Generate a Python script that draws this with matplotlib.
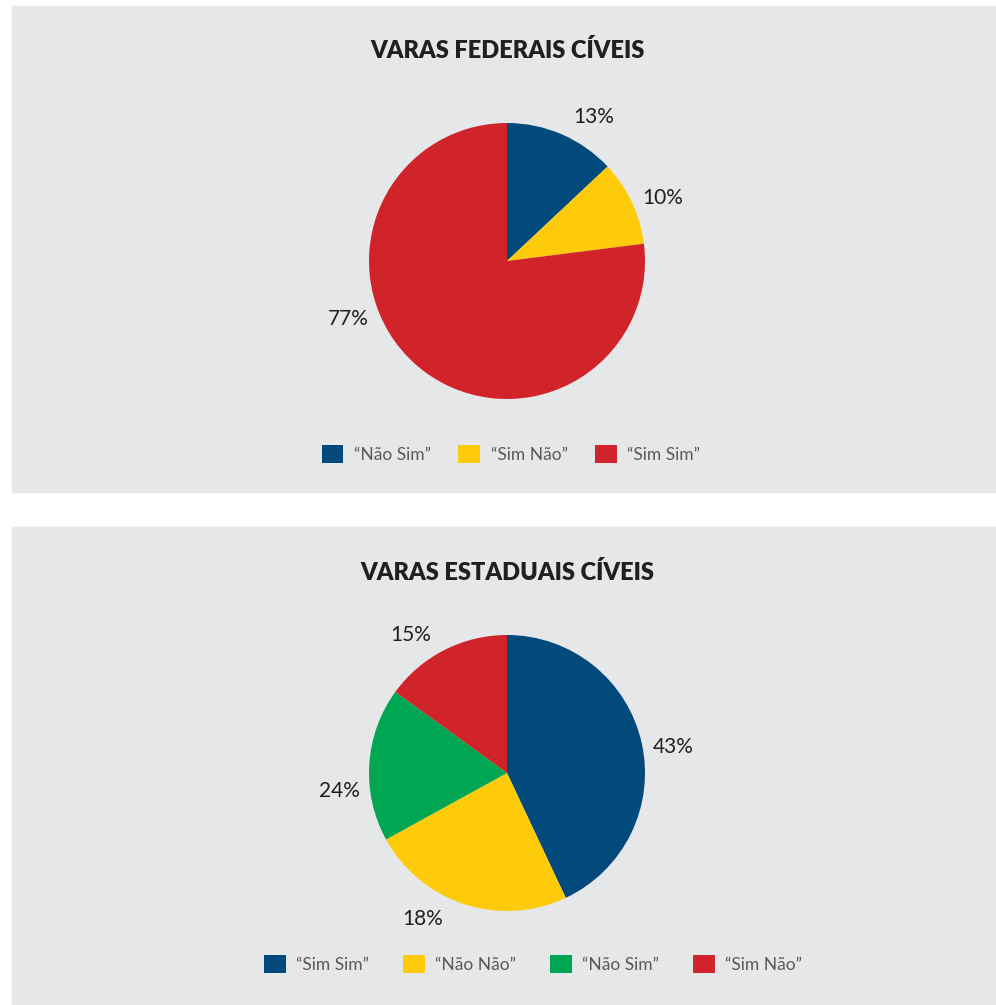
import numpy as np
import matplotlib
matplotlib.use('Agg')
import matplotlib.pyplot as plt
from matplotlib.patches import Rectangle, Patch

plt.rcParams['font.family'] = ['Lato', 'DejaVu Sans']

# dados
fed_labels = ['“Não Sim”', '“Sim Não”', '“Sim Sim”']
fed_values = [13, 10, 77]
fed_pct = ['13%', '10%', '77%']
fed_colors = ['#02497c', '#fecb0b', '#d0232a']

est_labels = ['“Sim Sim”', '“Não Não”', '“Não Sim”', '“Sim Não”']
est_values = [43, 24, 18, 15]          # tamanho das fatias como desenhado
est_pct = ['43%', '18%', '24%', '15%']  # rótulos como impressos
est_colors = ['#02497c', '#fecb0b', '#00a651', '#d0232a']

# posição angular dos rótulos (graus)
fed_lbl_ang = [59, 22, 200]
est_lbl_ang = [9, 240, 186, 125]

W, H = 996, 1005
BG = '#e6e7e8'

fig = plt.figure(figsize=(W / 100, H / 100), dpi=100)
fig.patch.set_facecolor('white')


def px(x, y):
    return x / W, 1 - y / H


# painéis cinza
for y0, y1 in [(6, 492), (527, 1005)]:
    fig.patches.append(Rectangle(px(12, y1), (W - 12) / W, (y1 - y0) / H,
                                 transform=fig.transFigure, color=BG,
                                 zorder=-10))


def draw_pie(cx, cy, r, values, colors, pct, angs):
    L = 1.6 * r
    x0, y0 = px(cx - L, cy + L)
    ax = fig.add_axes([x0, y0, 2 * L / W, 2 * L / H])
    ax.pie(values, colors=colors, startangle=90, counterclock=False,
           radius=1, wedgeprops=dict(linewidth=0))
    for t, a in zip(pct, angs):
        d = 1.22
        ax.text(d * np.cos(np.radians(a)), d * np.sin(np.radians(a)), t,
                ha='center', va='center', fontsize=15, color='#231f20')
    ax.set_xlim(-1.6, 1.6)
    ax.set_ylim(-1.6, 1.6)
    ax.set_aspect('equal')
    ax.axis('off')
    return ax


def draw_legend(cx, cy, labels, colors, spacing):
    handles = [Patch(facecolor=c, edgecolor='none') for c in colors]
    x, y = px(cx, cy)
    fig.legend(handles, labels, loc='center', bbox_to_anchor=(x, y),
               ncol=len(labels), frameon=False,
               handlelength=1.25, handleheight=1.25, handletextpad=0.6,
               columnspacing=spacing, labelcolor='#58595b',
               prop=dict(family='Lato', weight='normal', size=12.5))


fig.text(*px(507, 50), 'VARAS FEDERAIS CÍVEIS', ha='center', va='center',
         fontsize=17, fontweight='heavy', color='#231f20')
draw_pie(507, 261, 138, fed_values, fed_colors, fed_pct, fed_lbl_ang)
draw_legend(511, 454, fed_labels, fed_colors, 1.6)

fig.text(*px(507, 572), 'VARAS ESTADUAIS CÍVEIS', ha='center', va='center',
         fontsize=17, fontweight='heavy', color='#231f20')
draw_pie(507, 773, 138, est_values, est_colors, est_pct, est_lbl_ang)
draw_legend(533, 964, est_labels, est_colors, 1.95)

fig.savefig('out.png', dpi=100, facecolor='white')
